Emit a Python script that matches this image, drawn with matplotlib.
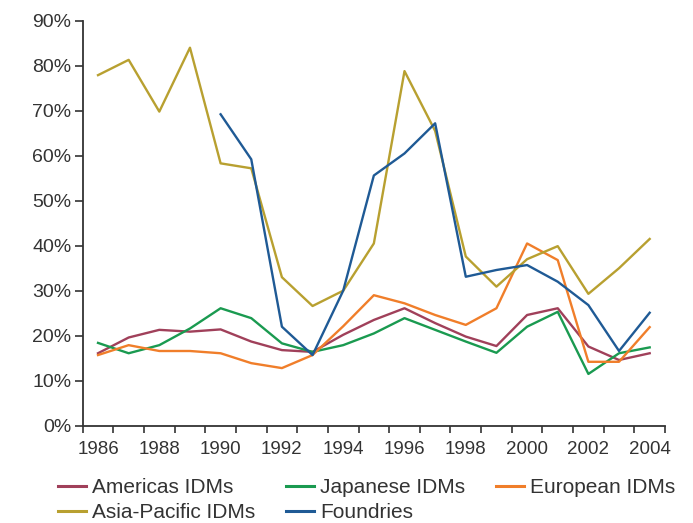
import matplotlib
matplotlib.use("Agg")
import matplotlib.pyplot as plt
from matplotlib.ticker import FixedLocator, FuncFormatter

plt.rcParams['font.family'] = ['Liberation Sans', 'DejaVu Sans']

years = list(range(1986, 2005))

americas = [16.1, 19.6, 21.3, 20.9, 21.4, 18.7, 16.8, 16.4, 20.2, 23.5, 26.1,
            22.8, 19.8, 17.7, 24.6, 26.1, 17.6, 14.6, 16.1]
japanese = [18.4, 16.1, 17.9, 21.6, 26.1, 23.9, 18.3, 16.4, 17.9, 20.5, 23.9,
            21.3, 18.7, 16.2, 22.0, 25.3, 11.5, 16.1, 17.4]
european = [15.7, 17.9, 16.6, 16.6, 16.1, 13.9, 12.8, 15.7, 22.1, 29.0, 27.2,
            24.6, 22.4, 26.1, 40.5, 36.8, 14.2, 14.2, 21.9]
asia_pacific = [77.9, 81.3, 69.8, 84.0, 58.3, 57.2, 33.0, 26.6, 30.0, 40.5, 78.8,
                65.5, 37.6, 30.9, 37.0, 39.9, 29.3, 35.0, 41.5]
foundry_years = list(range(1990, 2005))
foundries = [69.2, 59.2, 22.0, 15.7, 30.0, 55.6, 60.5, 67.2, 33.1, 34.6, 35.7,
             32.0, 26.8, 16.6, 25.1]

labels = ["Americas IDMs", "Japanese IDMs", "European IDMs",
          "Asia-Pacific IDMs", "Foundries"]
colors = ["#A0405A", "#1A9A50", "#F07E2A", "#B8A030", "#1F5A95"]
yticks = list(range(0, 100, 10))
xlabel_years = list(range(1986, 2005, 2))

fig = plt.figure(figsize=(6.93, 5.23), dpi=100)
ax = fig.add_axes([82.7 / 693, 1 - 425.7 / 523, (665 - 82.7) / 693, (425.7 - 20.7) / 523])

lw = 1.7
h_am, = ax.plot(years, americas, color=colors[0], lw=lw, label=labels[0])
h_jp, = ax.plot(years, japanese, color=colors[1], lw=lw, label=labels[1])
h_eu, = ax.plot(years, european, color=colors[2], lw=lw, label=labels[2])
h_ap, = ax.plot(years, asia_pacific, color=colors[3], lw=lw, label=labels[3])
h_fd, = ax.plot(foundry_years, foundries, color=colors[4], lw=lw, label=labels[4])

ax.set_xlim(years[0] - 0.5, years[-1] + 0.5)
ax.set_ylim(0, 90)

for s in ['top', 'right']:
    ax.spines[s].set_visible(False)
for s in ['left', 'bottom']:
    ax.spines[s].set_color('#333333')
    ax.spines[s].set_linewidth(1.3)

ax.yaxis.set_major_locator(FixedLocator(yticks))
ax.yaxis.set_major_formatter(FuncFormatter(lambda v, p: f"{int(v)}%"))
ax.tick_params(axis='y', length=6, width=1.2, color='#333333', pad=2,
               labelsize=14, labelcolor='#333333')

# tick marks at category boundaries, labels at category centres
ax.xaxis.set_major_locator(FixedLocator([y - 0.5 for y in years] + [years[-1] + 0.5]))
ax.xaxis.set_major_formatter(FuncFormatter(lambda v, p: ""))
ax.xaxis.set_minor_locator(FixedLocator(xlabel_years))
ax.xaxis.set_minor_formatter(FuncFormatter(lambda v, p: f"{int(round(v))}"))
ax.tick_params(axis='x', which='major', length=5, width=1.2, color='#333333')
ax.tick_params(axis='x', which='minor', length=0, pad=11, labelsize=13.5,
               labelcolor='#333333')

handles = [h_am, h_ap, h_jp, h_fd, h_eu]
leg = fig.legend(handles, [h.get_label() for h in handles], ncol=3,
                 loc='upper left', bbox_to_anchor=(58 / 693, 1 - 478 / 523),
                 bbox_transform=fig.transFigure, frameon=False,
                 fontsize=15, handlelength=1.35, handletextpad=0.3,
                 columnspacing=1.45, labelspacing=0.3, borderpad=0,
                 borderaxespad=0)
for t in leg.get_texts():
    t.set_color('#333333')
for l in leg.get_lines():
    l.set_linewidth(2.2)

fig.savefig("out.png", dpi=100)
